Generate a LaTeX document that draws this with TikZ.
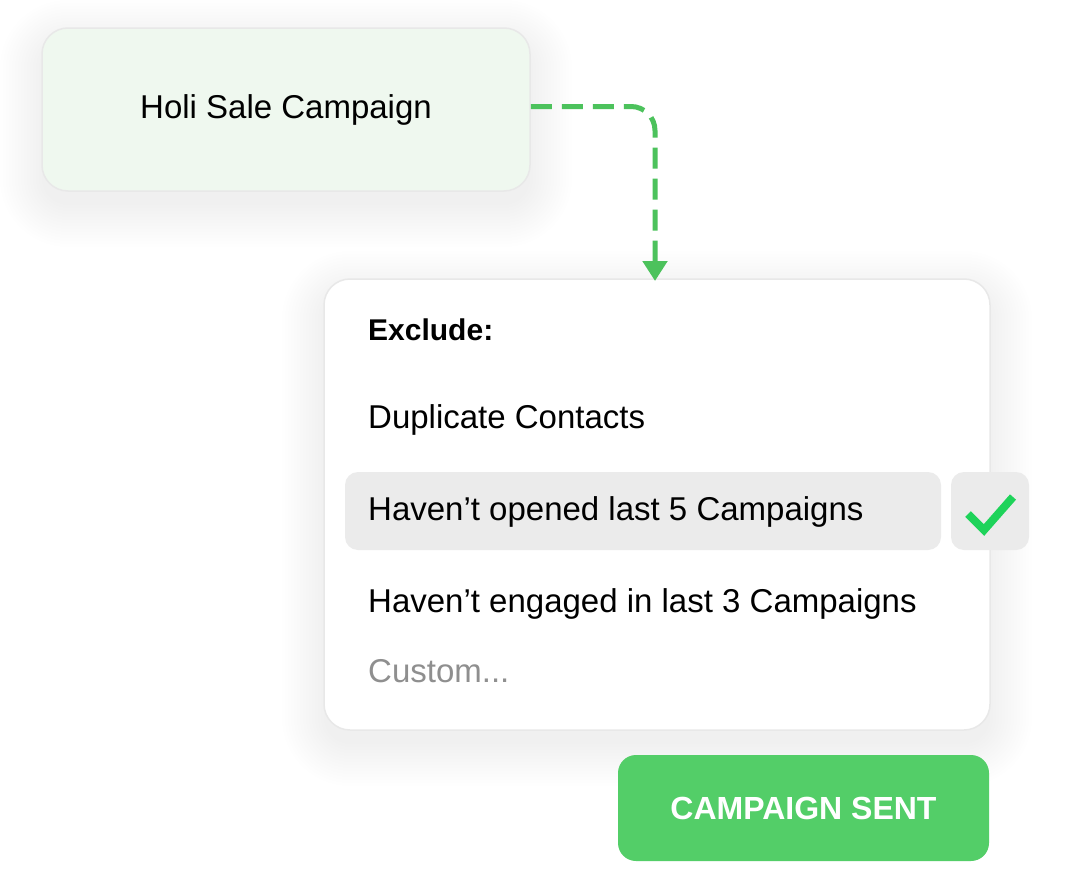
\documentclass[tikz,border=0pt]{standalone}
\usepackage{fontspec}
\setmainfont{Liberation Sans}
\usetikzlibrary{arrows.meta,calc}
\definecolor{holifill}{HTML}{EFF8EF}
\definecolor{boxline}{HTML}{E8E8E8}
\definecolor{dashgreen}{HTML}{4CC25C}
\definecolor{rowgray}{HTML}{EBEBEB}
\definecolor{checkgreen}{HTML}{1ED35A}
\definecolor{btngreen}{HTML}{53CE68}
\definecolor{customgray}{HTML}{8F8F8F}
\tikzset{
  card/.style={draw=boxline, line width=1.5pt, rounded corners=26pt, inner sep=0pt},
  rowbox/.style={fill=rowgray, rounded corners=13pt, inner sep=0pt, minimum height=78pt},
  itemtext/.style={anchor=base west, inner sep=0pt, font=\fontsize{33}{39}\selectfont},
  flowarrow/.style={draw=dashgreen, line width=5pt, dash pattern=on 21pt off 10pt, rounded corners=24pt,
     -{Triangle[width=24pt,length=20pt]}}
}
\newcommand{\softshadow}[5]{% x1 y1 x2 y2 radius
  \foreach \i in {0,3,...,42}{
    \pgfmathsetmacro{\rr}{#5+\i}
    \fill[black, opacity=0.004, rounded corners=\rr pt] (#1-\i, #2-\i+14) rectangle (#3+\i, #4+\i+14);
  }}
\begin{document}
\begin{tikzpicture}[x=1pt,y=-1pt]
\useasboundingbox (0,0) rectangle (1080,878);
\fill[white] (0,0) rectangle (1080,878);

% shadows
\softshadow{42}{28}{530}{191}{26}
\softshadow{324}{279}{990}{730}{26}

% source card
\node[card, fill=holifill, minimum width=488pt, minimum height=163pt, text height=17pt, text depth=0pt,
      font=\fontsize{33}{39}\selectfont] (holi) at (286,109.5) {Holi Sale Campaign};

% panel
\node[card, fill=white, minimum width=666pt, minimum height=451pt] (panel) at (657,504.5) {};

\coordinate (tgt) at (655,281);
\draw[flowarrow] ([yshift=3pt]holi.east) -| (tgt);

% rows
\node[rowbox, minimum width=596pt] (sel) at (643,511) {};
\node[rowbox, minimum width=78pt] (chk) at (990,511) {};
\draw[checkgreen, line width=8pt] ($(chk.center)+(-22,3)$) coordinate (c1) -- ($(chk.center)+(-6,19)$) coordinate (c2) -- ($(chk.center)+(23,-14)$) coordinate (c3);

\node[itemtext, font=\fontsize{30}{36}\selectfont\bfseries] (excl) at (368,340) {Exclude:};
\node[itemtext] (dup) at (368,428) {Duplicate Contacts};
\node[itemtext] (opened) at (368,520) {Haven’t opened last 5 Campaigns};
\node[itemtext] (engaged) at (368,612) {Haven’t engaged in last 3 Campaigns};
\node[itemtext, text=customgray] (custom) at (368,682) {Custom...};

% button
\node[fill=btngreen, rounded corners=18pt, minimum width=371pt, minimum height=106pt, inner sep=0pt,
      text=white, font=\fontsize{32}{38}\selectfont\bfseries, text height=23pt, text depth=0pt] (btn) at (803.5,808)
      {CAMPAIGN SENT};
\end{tikzpicture}
\end{document}
